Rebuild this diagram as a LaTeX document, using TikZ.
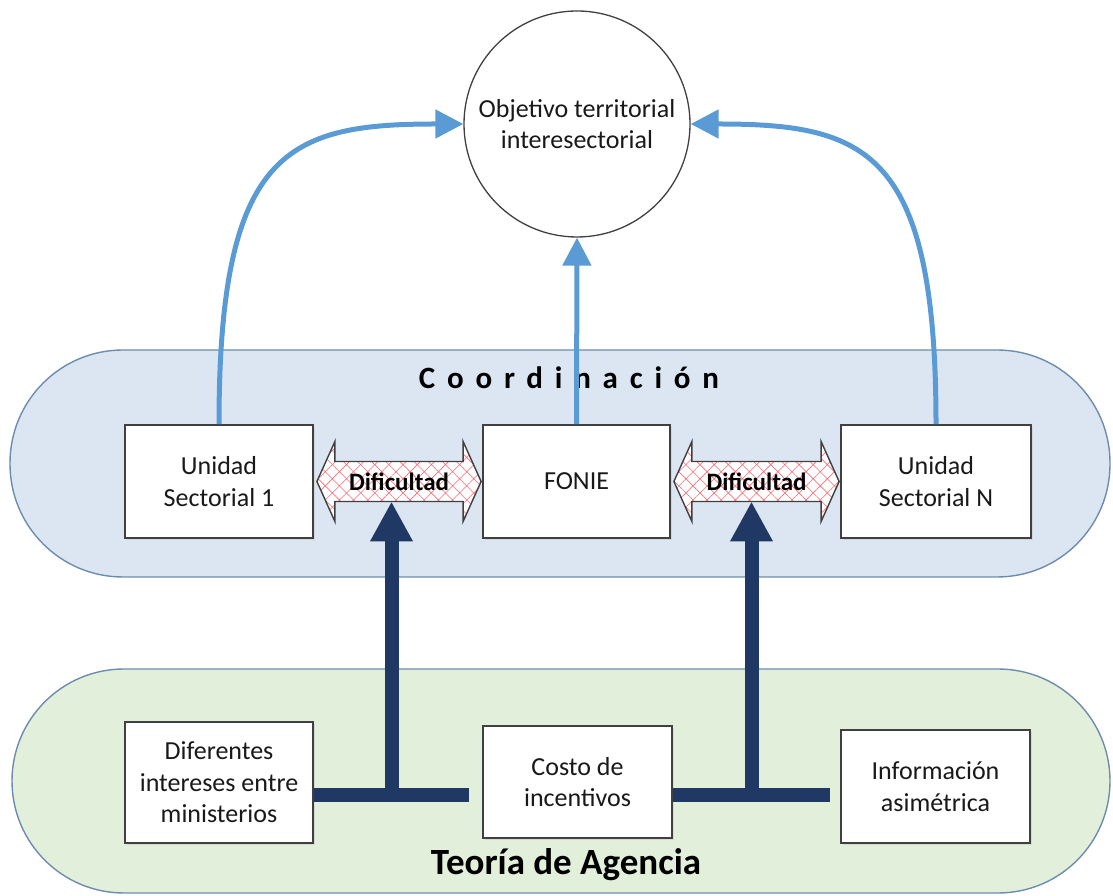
\documentclass[tikz,border=0pt]{standalone}
\usepackage{fontspec}
\setmainfont{Carlito}
\newfontfamily\spacedfont{Carlito}[LetterSpace=38]
\usetikzlibrary{arrows.meta,positioning,calc,shadows,patterns.meta}
\definecolor{coordfill}{RGB}{220,230,242}
\definecolor{agencyfill}{RGB}{226,239,218}
\definecolor{pillline}{RGB}{110,140,175}
\definecolor{linkblue}{RGB}{91,155,213}
\definecolor{pushnavy}{RGB}{31,56,100}
\definecolor{hatchred}{RGB}{255,105,115}
\tikzset{
  pill/.style={draw=pillline, line width=1.4pt},
  unitbox/.style={draw=black!75, line width=1.8pt, fill=white, align=center, text=black!90,
    font=\fontsize{26}{31.5}\selectfont,
    drop shadow={shadow xshift=1.5pt, shadow yshift=-2pt, fill=black!20, opacity=0.6}},
  goalnode/.style={circle, draw=black!75, line width=1.3pt, fill=white, align=center, text=black!90,
    minimum size=226pt, font=\fontsize{26}{31}\selectfont},
  linkln/.style={-{Triangle[length=28pt,width=28pt]}, line width=5pt, linkblue},
  pushln/.style={-{Triangle[length=40pt,width=40pt]}, line width=14pt, pushnavy},
  barln/.style={line width=14pt, pushnavy},
  difarr/.style={draw=black!75, line width=1.4pt, preaction={fill=white},
    pattern={Hatch[angle=45,distance=10pt,line width=0.6pt]}, pattern color=hatchred},
  diftxt/.style={font=\bfseries\fontsize{25}{28}\selectfont, text=black, inner sep=0pt},
  cotitle/.style={font=\spacedfont\bfseries\fontsize{31}{34}\selectfont, text=black},
  agtitle/.style={font=\bfseries\fontsize{37}{42}\selectfont, text=black},
}
\newcommand{\difarrow}[3]{%
  \coordinate (#1l) at ($(#2.east)+(3,0)$);
  \coordinate (#1r) at ($(#3.west)+(-1,0)$);
  \filldraw[difarr] (#1l) -- ++(18,40) -- ++(0,-20) -- ($(#1r)+(-18,20)$) -- ++(0,20)
    -- (#1r) -- ++(-18,-40) -- ++(0,20) -- ($(#1l)+(18,-20)$) -- ++(0,-20) -- cycle;
  \coordinate (#1b) at ($(#1l)!0.5!(#1r)+(0,-20)$);
  \node[diftxt] (#1t) at ($(#1l)!0.5!(#1r)$) {Dificultad};
}

\begin{document}
\begin{tikzpicture}[x=1pt,y=1pt]
    \useasboundingbox (0,0) rectangle (1113,896);
    % bands
    \node[pill, fill=coordfill, minimum width=1100, minimum height=227, rounded corners=113] (coord) at (560,432.5) {};
    \node[pill, fill=agencyfill, minimum width=1098, minimum height=224, rounded corners=112] (agency) at (561,115) {};
    \node[cotitle] (cotxt) at ($(coord.north)+(9,-28)$) {Coordinación};
    \node[agtitle] (agtxt) at ($(agency.south)+(5,29)$) {Teoría de Agencia};
    % goal
    \node[goalnode] (obj) at (577,772) {Objetivo territorial\\interesectorial};
    % level 1: coordination
    \node[unitbox, minimum width=188, minimum height=113] (us1) at (219,414.5) {Unidad\\Sectorial 1};
    \node[unitbox, minimum width=187, minimum height=113] (fonie) at (576.5,414.5) {FONIE};
    \node[unitbox, minimum width=190, minimum height=113] (usN) at (936,414.5) {Unidad\\Sectorial N};
    \difarrow{dfa}{us1}{fonie}
    \difarrow{dfb}{fonie}{usN}
    \draw[linkln] (us1.north) .. controls +(0,275) and +(-175,0) .. (obj.west);
    \draw[linkln] (usN.north) .. controls +(0,275) and +(175,0) .. (obj.east);
    \draw[linkln] (fonie.north) -- (obj.south);
    % level 2: agency
    \node[unitbox, minimum width=188, minimum height=121] (dif) at (219,113.5) {Diferentes\\intereses entre\\ministerios};
    \node[unitbox, minimum width=189, minimum height=112] (costo) at (577.5,114) {Costo de\\incentivos};
    \node[unitbox, minimum width=189, minimum height=113] (info) at (935.5,109.5) {Información\\asimétrica};
    \coordinate (b1l) at ($(dif.east)+(0,-13)$);
    \coordinate (b1r) at ($(costo.west |- b1l)+(-13,0)$);
    \coordinate (b2l) at ($(costo.east)+(0,-13)$);
    \coordinate (b2r) at ($(info.west |- b2l)+(-10,0)$);
    \draw[barln] (b1l) -- (b1r);
    \draw[barln] (b2l) -- (b2r);
    \coordinate (b1m) at ($(b1l)!0.5!(b1r)+(0,-7)$);
    \coordinate (b2m) at ($(b2l)!0.5!(b2r)+(0,-7)$);
    \draw[pushln] (b1m) -- (b1m |- dfab);
    \draw[pushln] (b2m) -- (b2m |- dfbb);
\end{tikzpicture}
\end{document}
